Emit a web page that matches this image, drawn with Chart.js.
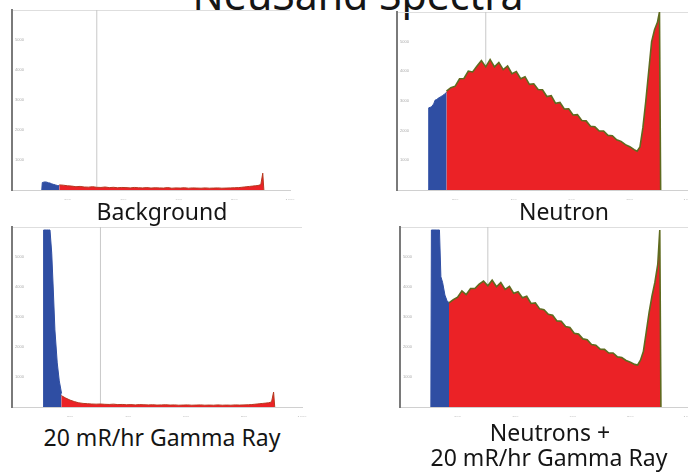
<!DOCTYPE html>
<html>
<head>
<meta charset="utf-8">
<script src="https://cdn.jsdelivr.net/npm/chart.js@4/dist/chart.umd.min.js"></script>
<style>
  html, body { margin: 0; padding: 0; background: #fff; }
  body { width: 688px; height: 472px; position: relative; overflow: hidden; font-family: "Noto Sans", sans-serif; color: #151515; }
  canvas { position: absolute; }
  .cap { position: absolute; width: 400px; text-align: center; font-size: 23px; line-height: 30px; white-space: nowrap; }
  #title { position: absolute; left: 58px; top: -26px; width: 600px; text-align: center; font-size: 41px; line-height: 41px; white-space: nowrap; }
</style>
</head>
<body>
<div id="title">NeuSand Spectra</div>

<canvas id="bg" width="300" height="200" style="left:0;top:0"></canvas>
<canvas id="neutron" width="344" height="200" style="left:344px;top:0"></canvas>
<canvas id="gamma" width="344" height="200" style="left:0;top:217px"></canvas>
<canvas id="both" width="344" height="200" style="left:344px;top:217px"></canvas>

<div class="cap" style="left:-38px;top:196px">Background</div>
<div class="cap" style="left:364px;top:196px">Neutron</div>
<div class="cap" style="left:-38px;top:422px">20 mR/hr Gamma Ray</div>
<div class="cap" style="left:350px;top:417px">Neutrons +</div>
<div class="cap" style="left:349px;top:442px">20 mR/hr Gamma Ray</div>

<script>
// channel positions (x) shared by all four spectra
const blueChannels = [107, 109, 118, 126, 131, 137, 142, 148, 156, 163, 171];
const redChannels = [
  170, 185, 200, 215, 230, 245, 260, 275, 290, 305,
  320, 335, 350, 365, 380, 395, 410, 425, 440, 455,
  470, 485, 500, 515, 530, 545, 560, 575, 590, 605,
  620, 635, 650, 665, 680, 695, 710, 725, 740, 755,
  770, 785, 800, 815, 825, 835, 845, 855, 865, 875,
  885, 895, 902, 906
];
const cursorChannel = 305;

// counts
const bgBlue = [0, 250, 270, 260, 240, 230, 210, 190, 170, 150, 140];
const bgRed = [
  170, 160, 140, 130, 110, 120, 100, 95, 110, 90,
  85, 100, 80, 90, 75, 85, 80, 70, 85, 75,
  70, 80, 65, 75, 70, 65, 80, 60, 70, 65,
  75, 60, 70, 65, 60, 70, 60, 65, 70, 60,
  65, 70, 75, 80, 90, 100, 110, 120, 130, 140,
  150, 180, 560, 0
];

const neutronBlue = [0, 2770, 2800, 2900, 3030, 3050, 3100, 3130, 3180, 3230, 3300];
const neutronRed = [
  3330, 3450, 3500, 3750, 3760, 4010, 3980, 4180, 4360, 4150,
  4400, 4150, 4300, 4060, 4180, 3920, 3990, 3750, 3820, 3560,
  3580, 3390, 3380, 3150, 3180, 2920, 2950, 2730, 2740, 2530,
  2540, 2340, 2330, 2150, 2130, 1990, 1990, 1840, 1830, 1690,
  1640, 1530, 1460, 1360, 1310, 1450, 2100, 3000, 4000, 5000,
  5400, 5650, 6000, 0
];

const gammaBlue = [0, 5900, 5900, 5900, 5900, 5130, 4000, 2570, 1470, 870, 450];
const gammaRed = [
  380, 300, 230, 180, 140, 120, 110, 100, 95, 100,
  90, 85, 95, 80, 85, 75, 80, 70, 80, 75,
  70, 75, 65, 70, 75, 65, 70, 60, 65, 70,
  60, 65, 70, 60, 65, 60, 70, 60, 65, 60,
  70, 65, 70, 75, 80, 90, 100, 110, 120, 130,
  140, 170, 500, 0
];

const bothBlue = [0, 5900, 5900, 5900, 5900, 5900, 4340, 4150, 3730, 3550, 3470];
const bothRed = [
  3470, 3580, 3660, 3870, 3750, 3950, 3950, 4100, 4200, 4040,
  4230, 4010, 4150, 3920, 4020, 3790, 3840, 3640, 3690, 3450,
  3470, 3270, 3240, 3090, 3060, 2870, 2860, 2680, 2650, 2460,
  2430, 2270, 2240, 2080, 2060, 1930, 1920, 1800, 1800, 1670,
  1650, 1550, 1490, 1420, 1400, 1560, 1850, 2500, 3150, 3700,
  4150, 4750, 5900, 0
];

const pts = (xs, ys) => xs.map((x, i) => ({ x: x, y: ys[i] }));

function makeChart(id, blue, red, edge, edgeWidth, yWidth, pad) {
  const ctx = document.getElementById(id).getContext("2d");
  return new Chart(ctx, {
    type: "line",
    data: {
      datasets: [
        {
          data: pts(redChannels, red),
          borderColor: edge,
          borderWidth: edgeWidth,
          backgroundColor: "#eb2226",
          fill: "origin",
          pointRadius: 0,
          order: 1,
        },
        {
          data: pts(blueChannels, blue),
          borderColor: "#2f4ea3",
          borderWidth: 1,
          backgroundColor: "#2f4ea3",
          fill: "origin",
          pointRadius: 0,
          order: 2,
        },
        {
          data: [{ x: cursorChannel, y: 0 }, { x: cursorChannel, y: 6000 }],
          borderColor: "#c8c8c8",
          borderWidth: 1,
          fill: false,
          pointRadius: 0,
          order: 3,
        },
      ],
    },
    options: {
      responsive: false,
      animation: false,
      layout: { padding: pad },
      plugins: { legend: { display: false }, tooltip: { enabled: false } },
      scales: {
        x: {
          type: "linear",
          min: 0,
          max: 1000,
          grid: { display: false },
          border: { color: "#d0d0d0", width: 1 },
          ticks: {
            stepSize: 200,
            maxRotation: 0,
            autoSkip: false,
            padding: 0,
            color: "#aaa",
            font: { size: 4 },
            callback: (v) => (v === 0 ? "" : v),
          },
          afterFit: (s) => { s.height = 10; s.paddingLeft = 0; s.paddingRight = 0; },
        },
        y: {
          min: 0,
          max: 6000,
          grid: {
            drawTicks: false,
            color: (c) => (c.tick && c.tick.value === 6000 ? "#dedede" : "rgba(0,0,0,0)"),
          },
          border: { color: "#7a7a7a", width: 2 },
          ticks: {
            stepSize: 1000,
            mirror: true,
            padding: 3,
            color: "#aaa",
            font: { size: 4 },
            callback: (v) => (v === 0 || v === 6000 ? "" : v),
          },
          afterFit: (s) => { s.width = yWidth; s.paddingTop = 0; s.paddingBottom = 0; },
        },
      },
    },
  });
}

makeChart("bg", bgBlue, bgRed, "#b5381f", 1, 12, { top: 10, right: 10 });
makeChart("neutron", neutronBlue, neutronRed, "#5f6b1f", 1.6, 53, { top: 12, right: 0 });
makeChart("gamma", gammaBlue, gammaRed, "#b5381f", 1, 12, { top: 10, right: 42 });
makeChart("both", bothBlue, bothRed, "#5f6b1f", 1.6, 56, { top: 10, right: 0 });
</script>
</body>
</html>
